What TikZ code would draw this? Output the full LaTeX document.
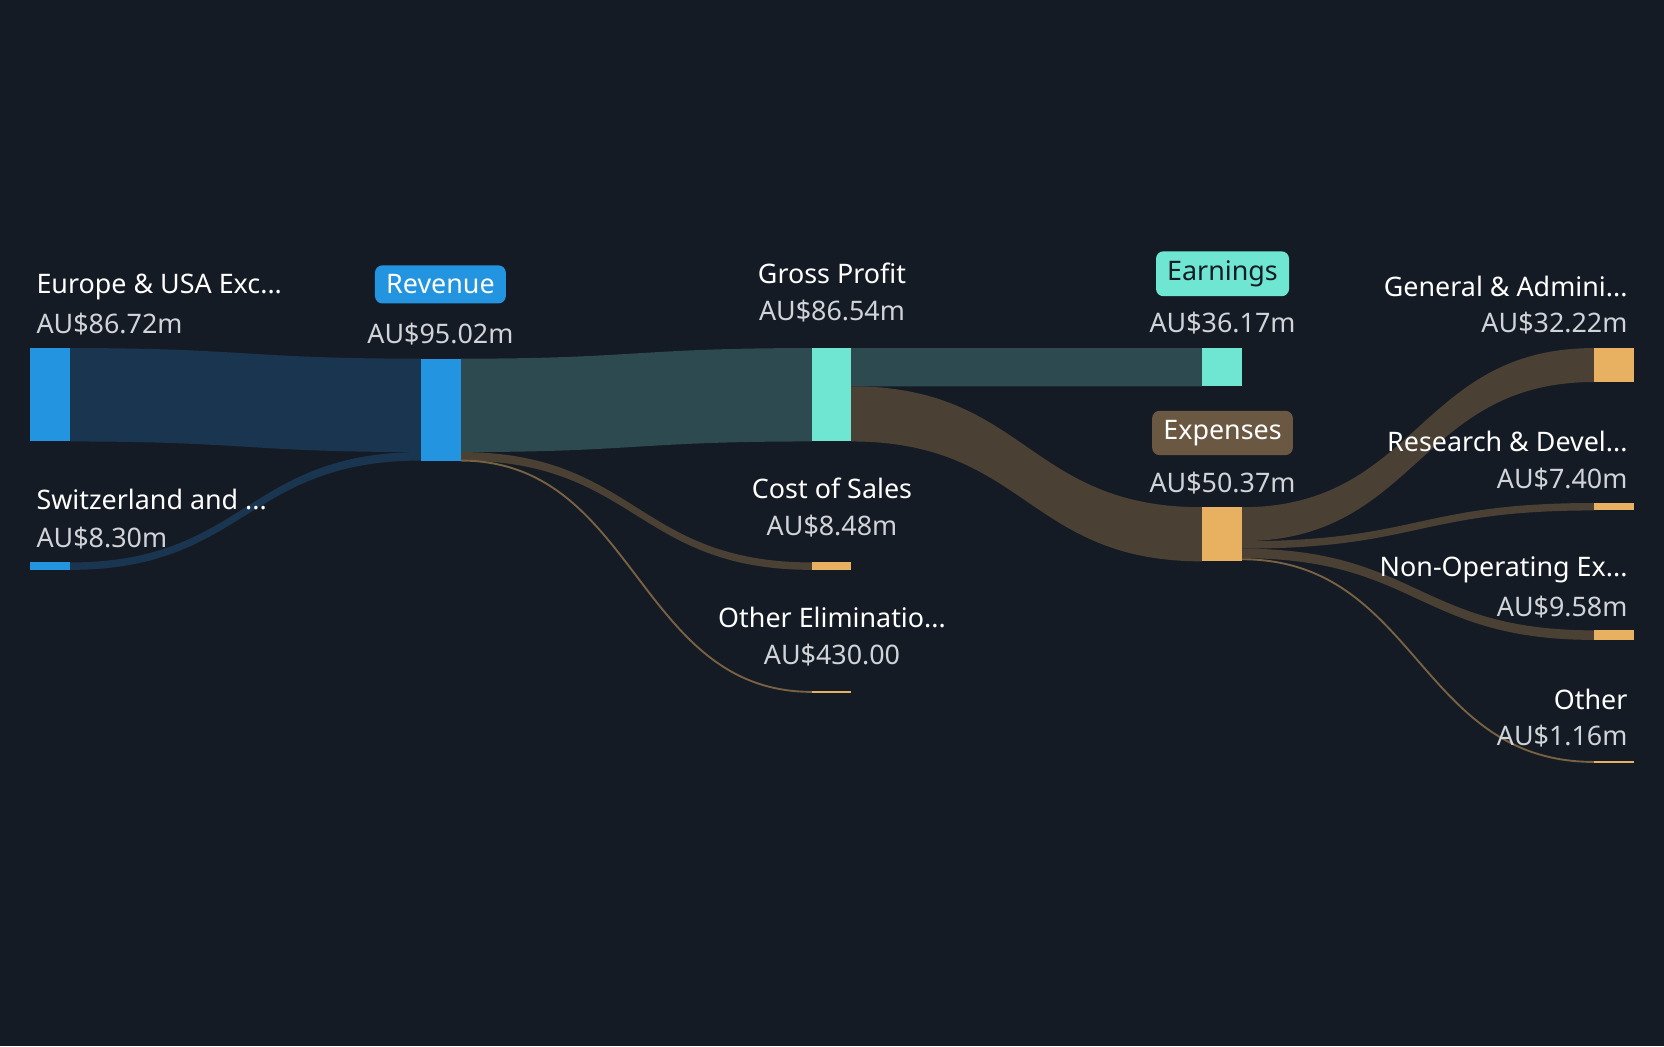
\documentclass[tikz,border=0pt]{standalone}
\usepackage{fontspec}
\setmainfont{Noto Sans}
\definecolor{bg}{HTML}{151B24}
\definecolor{blu}{HTML}{2394DF}
\definecolor{teal}{HTML}{6EE6D2}
\definecolor{ora}{HTML}{E8B061}
\definecolor{bluflow}{HTML}{1A3550}
\definecolor{tealflow}{HTML}{2C4A4F}
\definecolor{brnflow}{HTML}{4A4034}
\definecolor{brnbox}{HTML}{6B5842}
\definecolor{val}{HTML}{D0D3D8}
\newcommand\flow[7]{\fill[#7] (#1,#2) .. controls ({(#1+#4)/2},#2) and ({(#1+#4)/2},#5) .. (#4,#5) -- (#4,#6) .. controls ({(#1+#4)/2},#6) and ({(#1+#4)/2},#3) .. (#1,#3) -- cycle;}
\newcommand\sbar[5]{\fill[#5] (#1,#2) rectangle (#3,#4);}
\begin{document}
\begin{tikzpicture}[x=0.01cm,y=-0.01cm,
  every node/.style={font=\fontsize{7.2}{8}\selectfont, text=white},
  val/.style={text=val},
  tag/.style={rounded corners=2pt, inner sep=2.5pt, inner xsep=3pt}]
\fill[bg] (0,0) rectangle (1568,986);
% flows
\flow{66}{328}{416}{397}{338}{426}{bluflow}
\flow{66}{530}{537}{397}{426}{434}{bluflow}
\flow{434}{338}{426}{765}{328}{416}{tealflow}
\flow{434}{426}{434}{765}{530}{537}{brnflow}
\draw[brnflow!70!ora, line width=0.5pt] (434,434) .. controls (600,434) and (600,652) .. (765,652);
\flow{802}{328}{364}{1133}{328}{364}{tealflow}
\flow{802}{364}{416}{1133}{478}{529}{brnflow}
\flow{1170}{478}{510}{1502}{328}{360}{brnflow}
\flow{1170}{510}{517}{1502}{474}{481}{brnflow}
\flow{1170}{517}{526}{1502}{594}{603}{brnflow}
\draw[brnflow!70!ora, line width=0.5pt] (1170,527) .. controls (1336,527) and (1336,718) .. (1502,718);
% bars
\sbar{28}{328}{66}{416}{blu}
\sbar{28}{530}{66}{537}{blu}
\sbar{397}{338}{434}{434}{blu}
\sbar{765}{328}{802}{416}{teal}
\sbar{765}{530}{802}{537}{ora}
\sbar{765}{651}{802}{653}{ora}
\sbar{1133}{328}{1170}{364}{teal}
\sbar{1133}{478}{1170}{529}{ora}
\sbar{1502}{328}{1540}{360}{ora}
\sbar{1502}{474}{1540}{481}{ora}
\sbar{1502}{594}{1540}{603}{ora}
\sbar{1502}{717}{1540}{719}{ora}
% labels
\node[anchor=west] (eu) at (22,270) {Europe \& USA Exc...};
\node[anchor=west, val] (euv) at (22,305) {AU\$86.72m};
\node[anchor=west] (ch) at (22,471) {Switzerland and ...};
\node[anchor=west, val] (chv) at (22,507) {AU\$8.30m};
\node[tag, fill=blu] (rev) at (415,268) {Revenue};
\node[val] (revv) at (415,315) {AU\$95.02m};
\node (gp) at (784,258) {Gross Profit};
\node[val] (gpv) at (784,293) {AU\$86.54m};
\node (cos) at (784,460) {Cost of Sales};
\node[val] (cosv) at (784,496) {AU\$8.48m};
\node (oe) at (784,582) {Other Eliminatio...};
\node[val] (oev) at (784,617) {AU\$430.00};
\node[tag, fill=teal, text=bg] (earn) at (1152,258) {Earnings};
\node[val] (earnv) at (1152,304) {AU\$36.17m};
\node[tag, fill=brnbox] (exp) at (1152,408) {Expenses};
\node[val] (expv) at (1152,455) {AU\$50.37m};
\node[anchor=east] (ga) at (1546,270) {General \& Admini...};
\node[anchor=east, val] (gav) at (1546,304) {AU\$32.22m};
\node[anchor=east] (rd) at (1546,416) {Research \& Devel...};
\node[anchor=east, val] (rdv) at (1546,451) {AU\$7.40m};
\node[anchor=east] (no) at (1546,537) {Non-Operating Ex...};
\node[anchor=east, val] (nov) at (1546,572) {AU\$9.58m};
\node[anchor=east] (ot) at (1546,659) {Other};
\node[anchor=east, val] (otv) at (1546,694) {AU\$1.16m};
\end{tikzpicture}
\end{document}
